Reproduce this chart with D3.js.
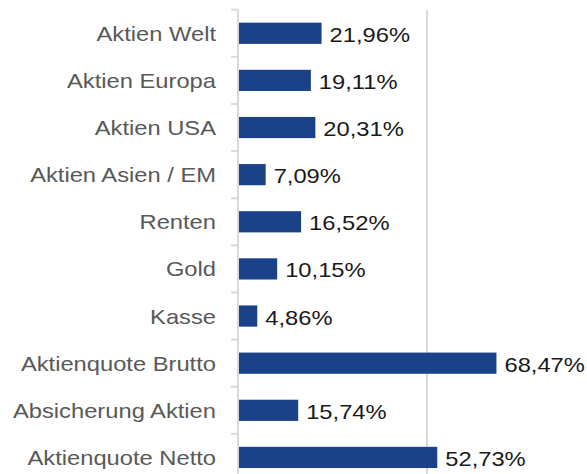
<!DOCTYPE html>
<meta charset="utf-8">
<script src="https://d3js.org/d3.v7.min.js"></script>
<style>
  body { margin: 0; background: #fff; }
  text { font-family: "Liberation Sans", Arial, sans-serif; }
</style>
<div id="chart"></div>
<script>

// categories and values (percent)
var categories = ["Aktien Welt", "Aktien Europa", "Aktien USA", "Aktien Asien / EM",
                  "Renten", "Gold", "Kasse", "Aktienquote Brutto",
                  "Absicherung Aktien", "Aktienquote Netto"];
var values = [21.96, 19.11, 20.31, 7.09, 16.52, 10.15, 4.86, 68.47, 15.74, 52.73];
var gridTicks = [50];

var width = 587, height = 474;

var svg = d3.select("#chart")
  .append("svg")
    .attr("width", width)
    .attr("height", height);

// x scale: 0..100 %
var x = d3.scaleLinear()
  .domain([0, 100])
  .range([239, 615]);

// y bands
var y = d3.scaleBand()
  .domain(categories)
  .range([9.7, 481])
  .paddingInner(0.55)
  .paddingOuter(0.275);

var step = y.step();

// grid line at 50 %
svg.selectAll(".grid")
  .data(gridTicks)
  .enter()
  .append("line")
    .attr("x1", function(d){ return x(d) })
    .attr("x2", function(d){ return x(d) })
    .attr("y1", 9.7)
    .attr("y2", 481)
    .style("stroke", "#d9d9d9")
    .style("stroke-width", 2);

// category axis line and tick marks at band borders
svg.append("line")
  .attr("x1", 238).attr("x2", 238)
  .attr("y1", 9.7).attr("y2", 481)
  .style("stroke", "#d9d9d9")
  .style("stroke-width", 2);

svg.selectAll(".tick")
  .data(d3.range(categories.length + 1))
  .enter()
  .append("line")
    .attr("x1", 231).attr("x2", 238)
    .attr("y1", function(i){ return 9.7 + i * step })
    .attr("y2", function(i){ return 9.7 + i * step })
    .style("stroke", "#d9d9d9")
    .style("stroke-width", 2);

// bars
svg.selectAll(".bar")
  .data(values)
  .enter()
  .append("rect")
    .attr("x", x(0))
    .attr("y", function(d, i){ return y(categories[i]) })
    .attr("width", function(d){ return x(d) - x(0) })
    .attr("height", y.bandwidth())
    .style("fill", "#1b4189");

// text is slightly stretched horizontally in the original
var sx = 1.13;

// category labels
svg.selectAll(".cat")
  .data(categories)
  .enter()
  .append("text")
    .attr("transform", function(d){
      return "translate(216," + (y(d) + y.bandwidth() / 2 + 7.5) + ") scale(" + sx + ",1)";
    })
    .attr("text-anchor", "end")
    .style("font-size", "21px")
    .style("fill", "#595959")
    .text(function(d){ return d });

// value labels
var fmt = function(v){ return v.toFixed(2).replace(".", ",") + "%" };

svg.selectAll(".val")
  .data(values)
  .enter()
  .append("text")
    .attr("transform", function(d, i){
      return "translate(" + (x(d) + 8) + "," + (y(categories[i]) + y.bandwidth() / 2 + 8.5) + ") scale(" + sx + ",1)";
    })
    .style("font-size", "21px")
    .style("fill", "#1a1a1a")
    .text(fmt);

</script>
